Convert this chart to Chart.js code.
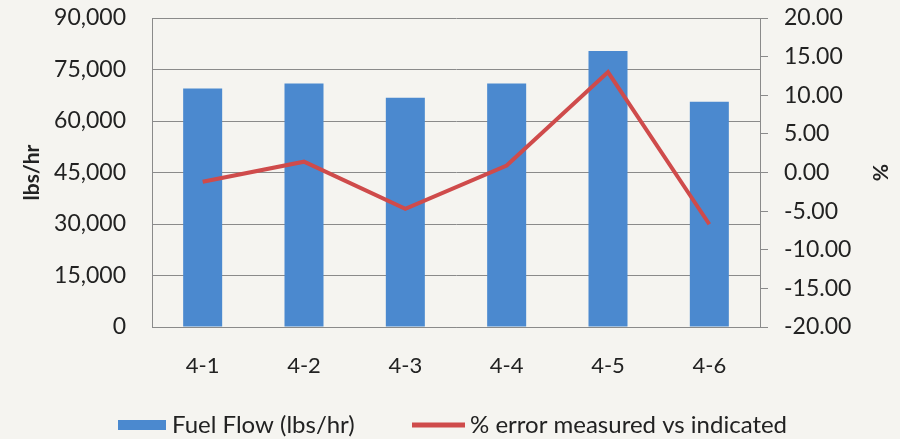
<!DOCTYPE html>
<html>
<head>
<meta charset="utf-8">
<script src="https://cdn.jsdelivr.net/npm/chart.js@4"></script>
<style>
  html, body { margin: 0; padding: 0; background: #f5f4f0; }
  #wrap { width: 900px; height: 439px; }
</style>
</head>
<body>
<div id="wrap"><canvas id="c" width="900" height="439"></canvas></div>
<script>
// Test runs
const categories = ['4-1', '4-2', '4-3', '4-4', '4-5', '4-6'];
// Fuel flow per run, lbs/hr
const fuelFlow = [69500, 70900, 66800, 70900, 80400, 65600];
// Percent error, measured vs indicated
const pctError = [-1.2, 1.4, -4.7, 0.9, 13.0, -6.7];
// Axis ranges
const flowTicks = [0, 15000, 30000, 45000, 60000, 75000, 90000];
const pctTicks = [-20, -15, -10, -5, 0, 5, 10, 15, 20];

const FONT = 'Lato, "Open Sans", sans-serif';
const TEXT = '#222';
const GRID = '#8a8a8a';
const BAR_COLOR = '#4b89cf';
const LINE_COLOR = '#cf4b4b';

const background = {
  id: 'background',
  beforeDraw(chart) {
    const ctx = chart.ctx;
    ctx.save();
    ctx.fillStyle = '#f5f4f0';
    ctx.fillRect(0, 0, chart.width, chart.height);
    ctx.restore();
  }
};

// Legend row along the bottom: a filled swatch for the bars, a stroke for the line
const bottomLegend = {
  id: 'bottomLegend',
  afterDraw(chart) {
    const ctx = chart.ctx;
    const y = 425;
    const [lineDs, barDs] = chart.data.datasets;
    ctx.save();
    ctx.font = '24px ' + FONT;
    ctx.textBaseline = 'middle';

    ctx.fillStyle = barDs.backgroundColor;
    ctx.fillRect(118, y - 5, 48, 10);
    ctx.fillStyle = TEXT;
    ctx.fillText(barDs.label, 172, y);

    ctx.strokeStyle = lineDs.borderColor;
    ctx.lineWidth = 5;
    ctx.beginPath();
    ctx.moveTo(412, y);
    ctx.lineTo(465, y);
    ctx.stroke();
    ctx.fillText(lineDs.label, 470, y);
    ctx.restore();
  }
};

new Chart(document.getElementById('c'), {
  data: {
    labels: categories,
    datasets: [
      {
        type: 'line',
        label: '% error measured vs indicated',
        data: pctError,
        yAxisID: 'y1',
        borderColor: LINE_COLOR,
        backgroundColor: LINE_COLOR,
        borderWidth: 4,
        pointRadius: 0,
        tension: 0,
        order: 0
      },
      {
        type: 'bar',
        label: 'Fuel Flow (lbs/hr)',
        data: fuelFlow,
        yAxisID: 'y',
        backgroundColor: BAR_COLOR,
        borderWidth: 0,
        barPercentage: 0.385,
        categoryPercentage: 1,
        order: 1
      }
    ]
  },
  options: {
    responsive: false,
    animation: false,
    layout: { padding: { top: 18, left: 0, right: 0, bottom: 50 } },
    plugins: {
      tooltip: { enabled: false },
      legend: { display: false }
    },
    scales: {
      x: {
        grid: { display: false, drawTicks: false },
        border: { display: true, color: GRID, width: 1 },
        ticks: { color: TEXT, font: { family: FONT, size: 22 }, padding: 26 },
        afterFit(s) { s.height = 62; s.paddingLeft = 0; s.paddingRight = 0; }
      },
      y: {
        position: 'left',
        min: 0,
        max: 90000,
        afterBuildTicks(s) { s.ticks = flowTicks.map(v => ({ value: v })); },
        grid: { color: GRID, drawTicks: false },
        border: { display: true, color: GRID },
        ticks: {
          color: TEXT,
          font: { family: FONT, size: 23 },
          padding: 26,
          callback: v => v.toLocaleString('en-US')
        },
        title: {
          display: true,
          text: 'lbs/hr',
          color: TEXT,
          font: { family: FONT, size: 21, weight: 'bold' },
          padding: { top: 20, bottom: 0 }
        },
        afterFit(s) { s.width = 152; s.paddingTop = 0; s.paddingBottom = 0; }
      },
      y1: {
        position: 'right',
        min: -20,
        max: 20,
        afterBuildTicks(s) { s.ticks = pctTicks.map(v => ({ value: v })); },
        grid: { drawOnChartArea: false, drawTicks: true, tickLength: 8, color: GRID },
        border: { display: true, color: GRID },
        ticks: {
          color: TEXT,
          font: { family: FONT, size: 23 },
          padding: 16,
          callback: v => v.toFixed(2)
        },
        title: {
          display: true,
          text: '%',
          color: TEXT,
          font: { family: FONT, size: 21, weight: 'bold' },
          padding: { top: 8, bottom: 0 }
        },
        afterFit(s) { s.width = 140; s.paddingTop = 0; s.paddingBottom = 0; }
      }
    }
  },
  plugins: [background, bottomLegend]
});
</script>
</body>
</html>
